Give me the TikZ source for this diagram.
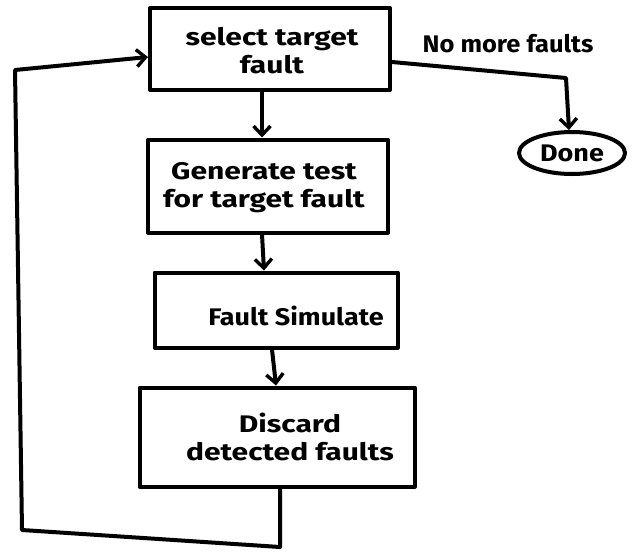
\documentclass[tikz,border=0pt]{standalone}
\usepackage{fontspec}
\setmainfont{Fira Sans}
\usetikzlibrary{arrows.meta,shapes.geometric}
\begin{document}
\begin{tikzpicture}[x=1pt,y=-1pt,
  ink/.style={line width=4pt,line join=round,line cap=round},
  boxn/.style={ink,draw,rectangle,inner sep=0pt},
  txt/.style={font=\fontsize{24}{28}\selectfont\bfseries,align=center,xscale=1.25,transform shape},
  arr/.style={ink,-{Straight Barb[length=9pt,width=17pt,line width=3.4pt]}}]
\useasboundingbox (0,0) rectangle (634,552);
\node[boxn,minimum width=240pt,minimum height=82pt] (b1) at (270,49) {};
\node[boxn,minimum width=240pt,minimum height=93pt] (b2) at (268,186) {};
\node[boxn,minimum width=243pt,minimum height=75pt] (b3) at (276,310) {};
\node[boxn,minimum width=275pt,minimum height=99pt] (b4) at (277,437) {};
\node[ink,draw,ellipse,minimum width=106pt,minimum height=42pt,inner sep=0pt] (done) at (572,153) {};
\node[txt] (t1) at (272,51) {select target\\fault};
\node[txt] (t2) at (264,188) {Generate test\\for target fault};
\node[txt,xscale=0.9] (t3) at (296,316) {Fault Simulate};
\node[txt] (t4) at (290,437) {Discard\\detected faults};
\node[txt,xscale=0.9] (t5) at (572,153) {Done};
\node[txt,xscale=0.85] (lab) at (508,44) {No more faults};
\coordinate (c1) at (280,547);
\coordinate (c2) at (22,530);
\coordinate (c3) at (15,70);
\coordinate (c4) at (566,78);
\draw[arr] (b1.south -| 262,0) -- (b2.north -| 262,0);
\draw[arr] (b2.south -| 262,0) -- (b3.north -| 264,0);
\draw[arr] (b3.south -| 272,0) -- (b4.north -| 276,0);
\draw[arr] (b4.south -| 280,0) -- (c1) -- (c2) -- (c3) -- ([yshift=-8pt]b1.west);
\draw[arr] ([yshift=-13pt]b1.east) -- (c4) -- (done.north -| 569,0);
\end{tikzpicture}
\end{document}
